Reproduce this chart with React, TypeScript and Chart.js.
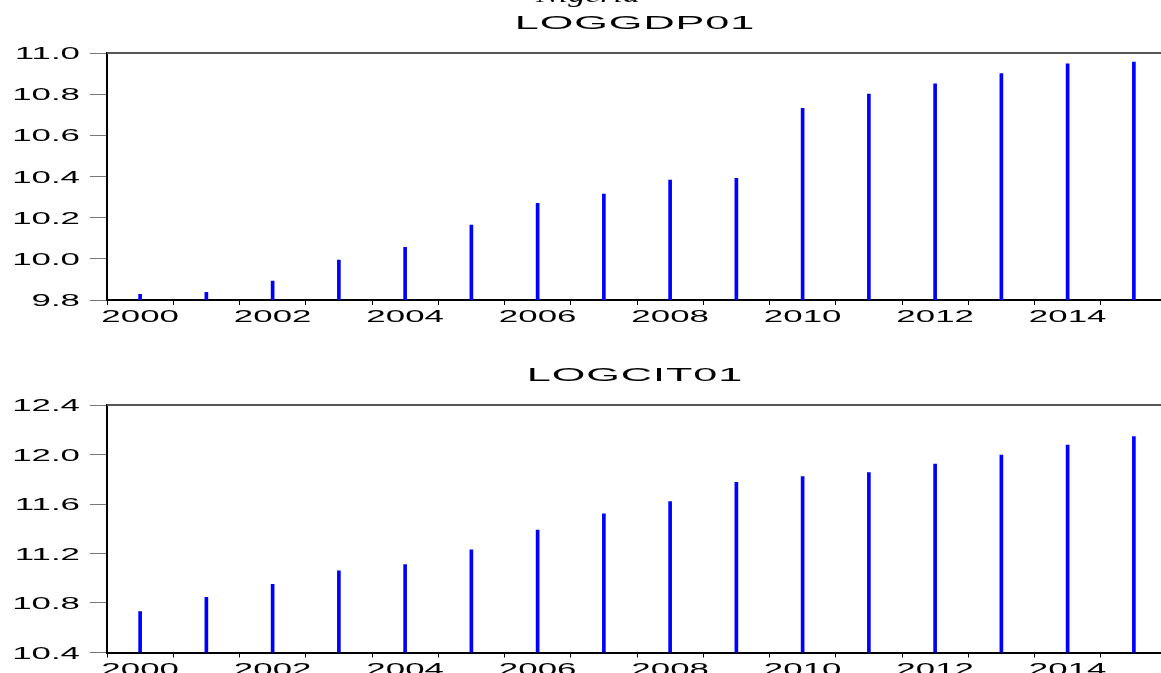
import React, { useEffect, useRef } from "react";
import { Chart, registerables } from "chart.js";

Chart.register(...registerables);

const YEARS = [2000, 2001, 2002, 2003, 2004, 2005, 2006, 2007, 2008, 2009, 2010, 2011, 2012, 2013, 2014, 2015];
const LOGGDP01 = [9.828, 9.837, 9.892, 9.994, 10.056, 10.164, 10.27, 10.315, 10.383, 10.391, 10.731, 10.8, 10.85, 10.9, 10.947, 10.956];
const LOGCIT01 = [10.73, 10.845, 10.95, 11.06, 11.11, 11.23, 11.39, 11.52, 11.62, 11.775, 11.821, 11.853, 11.923, 11.996, 12.077, 12.144];
const GDP_Y_TICKS = [9.8, 10.0, 10.2, 10.4, 10.6, 10.8, 11.0];
const CIT_Y_TICKS = [10.4, 10.8, 11.2, 11.6, 12.0, 12.4];
const X_LABEL_YEARS = [2000, 2002, 2004, 2006, 2008, 2010, 2012, 2014];
const SUPER_TITLE = "Nigeria";

const SANS = '"Liberation Sans", Arial, sans-serif';
const SERIF = '"Liberation Serif", "Times New Roman", serif';
const SX = 2.05;

function stretchText(
  ctx: CanvasRenderingContext2D,
  text: string,
  x: number,
  y: number,
  font: string,
  sx: number,
  align: CanvasTextAlign,
  spacing = 0
) {
  ctx.save();
  ctx.font = font;
  ctx.fillStyle = "#000";
  ctx.textAlign = align;
  ctx.textBaseline = "alphabetic";
  if (spacing) (ctx as any).letterSpacing = spacing + "px";
  ctx.translate(x, y);
  ctx.scale(sx, 1);
  ctx.fillText(text, 0, 0);
  ctx.restore();
}

function makeOverlay(title: string, titleBaseline: number, yTicks: number[], superTitle?: string) {
  return {
    id: "overlay_" + title,
    afterDraw(chart: any) {
      const ctx: CanvasRenderingContext2D = chart.ctx;
      const area = chart.chartArea;
      const xs = chart.scales.x;
      const ys = chart.scales.y;
      // top frame line
      ctx.save();
      ctx.strokeStyle = "#555";
      ctx.lineWidth = 2;
      ctx.beginPath();
      ctx.moveTo(area.left, area.top);
      ctx.lineTo(chart.width, area.top);
      ctx.stroke();
      ctx.restore();
      // titles
      if (superTitle) {
        stretchText(ctx, superTitle, 588, 1.5, `italic 20px ${SERIF}`, 1.7, "center");
      }
      stretchText(ctx, title, (area.left + area.right) / 2 - 2, titleBaseline, `18px ${SANS}`, 2.4, "center", 0.4);
      // y labels
      yTicks.forEach((v) => {
        const py = ys.getPixelForValue(v);
        stretchText(ctx, v.toFixed(1), 80, py + 6, `17px ${SANS}`, SX, "right");
      });
      // x labels
      X_LABEL_YEARS.forEach((yr) => {
        const px = xs.getPixelForValue(yr + 0.5);
        stretchText(ctx, String(yr), px, area.bottom + 22, `17px ${SANS}`, SX, "center");
      });
    },
  };
}

function buildConfig(values: number[], yTicks: number[], topPad: number, xHeight: number, title: string, titleBaseline: number, superTitle?: string): any {
  return {
    type: "bar",
    data: {
      datasets: [
        {
          data: YEARS.map((yr, i) => ({ x: yr + 0.5, y: values[i] })),
          backgroundColor: "#0000FF",
          borderWidth: 0,
          barThickness: 3,
        },
      ],
    },
    options: {
      responsive: false,
      animation: false,
      devicePixelRatio: 1,
      layout: { padding: { top: topPad, left: 0, right: 0, bottom: 0 } },
      plugins: { legend: { display: false }, tooltip: { enabled: false }, title: { display: false } },
      scales: {
        x: {
          type: "linear",
          min: YEARS[0],
          max: YEARS[YEARS.length - 1] + 1,
          offset: false,
          grid: { offset: false, drawOnChartArea: false, drawTicks: true, tickLength: 5, color: "#000", lineWidth: 1 },
          border: { display: true, color: "#000", width: 2 },
          ticks: { stepSize: 1, callback: () => "", autoSkip: false, maxRotation: 0 },
          afterFit: (s: any) => {
            s.height = xHeight;
            s.paddingLeft = 0;
            s.paddingRight = 0;
          },
        },
        y: {
          type: "linear",
          min: yTicks[0],
          max: yTicks[yTicks.length - 1],
          beginAtZero: false,
          grid: { drawOnChartArea: false, drawTicks: true, tickLength: 17, color: "#777", lineWidth: 1 },
          border: { display: true, color: "#000", width: 2 },
          ticks: { callback: () => "", autoSkip: false },
          afterBuildTicks: (s: any) => {
            s.ticks = yTicks.map((v) => ({ value: v }));
          },
          afterFit: (s: any) => {
            s.width = 107;
            s.paddingTop = 0;
            s.paddingBottom = 0;
          },
        },
      },
    },
    plugins: [makeOverlay(title, titleBaseline, yTicks, superTitle)],
  };
}

export default function App() {
  const topRef = useRef<HTMLCanvasElement>(null);
  const botRef = useRef<HTMLCanvasElement>(null);

  useEffect(() => {
    const c1 = new Chart(topRef.current!, buildConfig(LOGGDP01, GDP_Y_TICKS, 53, 40, "LOGGDP01", 28.5, SUPER_TITLE));
    const c2 = new Chart(botRef.current!, buildConfig(LOGCIT01, CIT_Y_TICKS, 65, 20.5, "LOGCIT01", 41));
    return () => {
      c1.destroy();
      c2.destroy();
    };
  }, []);

  return (
    <div style={{ position: "fixed", left: 0, top: 0, width: 1161, height: 673, overflow: "hidden", background: "#fff" }}>
      <canvas ref={topRef} width={1167} height={340} style={{ position: "absolute", left: 0, top: 0, width: 1167, height: 340 }} />
      <canvas ref={botRef} width={1167} height={333} style={{ position: "absolute", left: 0, top: 340, width: 1167, height: 333 }} />
    </div>
  );
}
